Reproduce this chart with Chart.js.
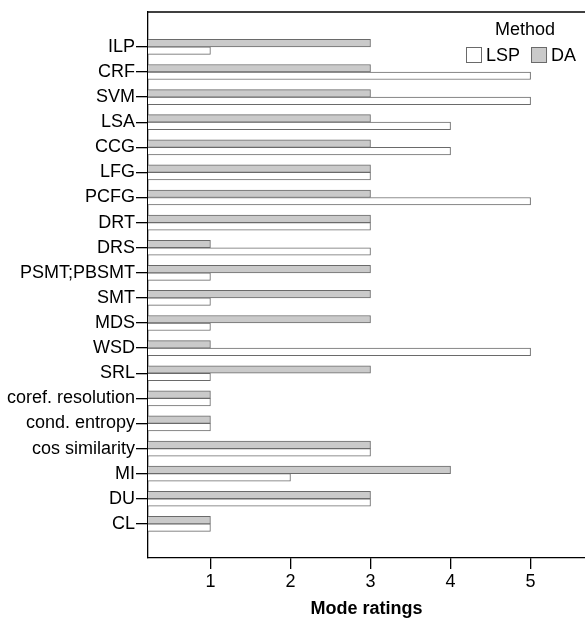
<!DOCTYPE html>
<html>
<head>
<meta charset="utf-8">
<script src="https://cdn.jsdelivr.net/npm/chart.js@4"></script>
<style>
  body { margin: 0; background: #fff; }
</style>
</head>
<body>
<canvas id="myChart" width="585" height="620"></canvas>
<script>
// categories, top to bottom
var categories = ['ILP', 'CRF', 'SVM', 'LSA', 'CCG', 'LFG', 'PCFG', 'DRT', 'DRS', 'PSMT;PBSMT',
    'SMT', 'MDS', 'WSD', 'SRL', 'coref. resolution', 'cond. entropy', 'cos similarity', 'MI', 'DU', 'CL'];
var daValues = [3, 3, 3, 3, 3, 3, 3, 3, 1, 3, 3, 3, 1, 3, 1, 1, 3, 4, 3, 1];
var lspValues = [1, 5, 5, 4, 4, 3, 5, 3, 3, 1, 1, 1, 5, 1, 1, 1, 3, 2, 3, 1];
var xTicks = [1, 2, 3, 4, 5];

var FONT = 'Liberation Sans, Arial, Helvetica, sans-serif';

function toPoints(vals) {
    return vals.map(function (v, i) { return { x: v, y: i }; });
}

// legend drawn by hand inside the plot, top right
var methodLegend = {
    id: 'methodLegend',
    afterDraw: function (chart) {
        var ctx = chart.ctx;
        var area = chart.chartArea;
        ctx.save();
        // top frame line
        ctx.strokeStyle = '#000';
        ctx.lineWidth = 1.3;
        ctx.beginPath();
        ctx.moveTo(area.left, area.top);
        ctx.lineTo(area.right, area.top);
        ctx.stroke();

        ctx.font = '18px ' + FONT;
        ctx.fillStyle = '#000';
        ctx.textBaseline = 'middle';
        ctx.textAlign = 'center';
        ctx.fillText('Method', 525, 30);

        // LSP first, then DA
        var order = [1, 0];
        var x = 466;
        ctx.textAlign = 'left';
        order.forEach(function (di) {
            var ds = chart.data.datasets[di];
            ctx.fillStyle = ds.backgroundColor;
            ctx.strokeStyle = ds.borderColor;
            ctx.lineWidth = 1;
            ctx.fillRect(x + 0.5, 47.5, 15, 15);
            ctx.strokeRect(x + 0.5, 47.5, 15, 15);
            ctx.fillStyle = '#000';
            ctx.fillText(ds.label, x + 20, 56);
            x += 20 + ctx.measureText(ds.label).width + 11;
        });
        ctx.restore();
    }
};

var ctx = document.getElementById('myChart').getContext('2d');
var chart = new Chart(ctx, {
    type: 'bar',
    data: {
        datasets: [{
            label: 'DA',
            data: toPoints(daValues),
            backgroundColor: '#cacaca',
            borderColor: '#6a6a6a',
            borderWidth: 1,
            barThickness: 7.5
        }, {
            label: 'LSP',
            data: toPoints(lspValues),
            backgroundColor: '#ffffff',
            borderColor: '#6a6a6a',
            borderWidth: 1,
            barThickness: 7.5
        }]
    },
    plugins: [methodLegend],
    options: {
        indexAxis: 'y',
        responsive: false,
        animation: false,
        layout: { padding: { top: 12, right: 0, left: 0, bottom: 0 } },
        plugins: {
            legend: { display: false },
            tooltip: { enabled: false }
        },
        scales: {
            x: {
                type: 'linear',
                min: 0.22,
                max: 5.68,
                afterFit: function (scale) { scale.height = 62; },
                afterBuildTicks: function (scale) {
                    scale.ticks = xTicks.map(function (v) { return { value: v }; });
                },
                grid: { drawOnChartArea: false, tickLength: 11, color: '#000', lineWidth: 1.3 },
                border: { color: '#000', width: 1.3 },
                ticks: { color: '#000', font: { family: FONT, size: 18 }, padding: 2 },
                title: {
                    display: true,
                    text: 'Mode ratings',
                    color: '#000',
                    font: { family: FONT, size: 18, weight: 'bold' },
                    padding: { top: 0, bottom: 0 }
                }
            },
            y: {
                type: 'linear',
                reverse: true,
                offset: false,
                min: -1.39,
                max: 20.36,
                afterFit: function (scale) { scale.width = 148; },
                afterBuildTicks: function (scale) {
                    scale.ticks = categories.map(function (c, i) { return { value: i }; });
                },
                grid: { offset: false, drawOnChartArea: false, tickLength: 12, color: '#000', lineWidth: 1.3 },
                border: { color: '#000', width: 1.3 },
                ticks: {
                    autoSkip: false,
                    color: '#000',
                    padding: 1,
                    font: { family: FONT, size: 18 },
                    callback: function (v) { return categories[v]; }
                }
            }
        }
    }
});
</script>
</body>
</html>
